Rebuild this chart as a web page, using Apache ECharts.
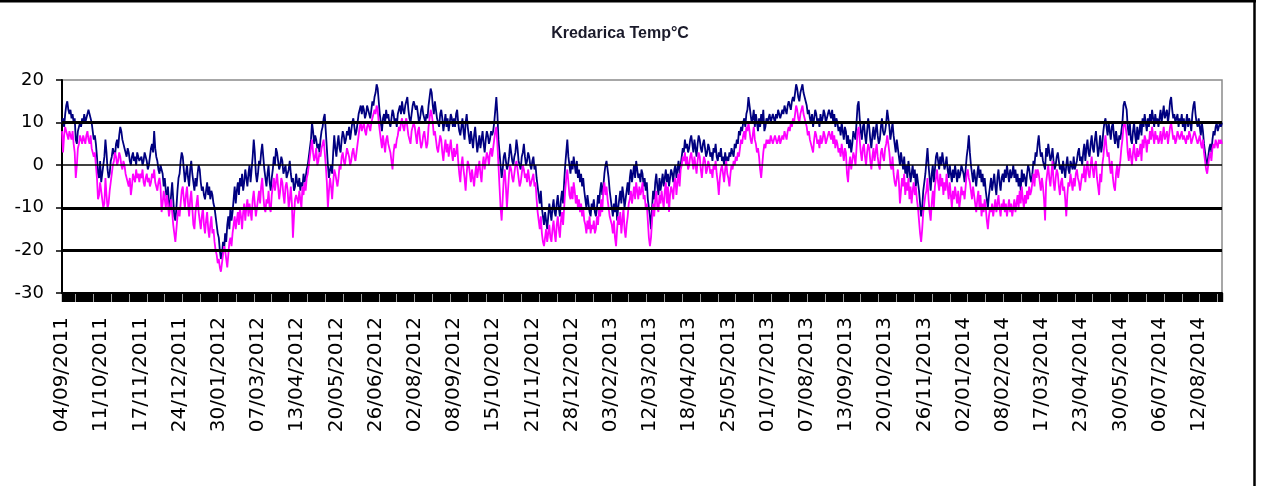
<!DOCTYPE html>
<html>
<head>
<meta charset="utf-8">
<script src="https://cdn.jsdelivr.net/npm/echarts@6/dist/echarts.min.js"></script>
<style>
html,body{margin:0;padding:0;background:#fff;}
#chart{width:1264px;height:486px;}
</style>
</head>
<body>
<div id="chart"></div>
<script>
// Title and axis settings
var chartTitle = 'Kredarica Temp°C';
var startDate = '2011-09-04';
var dayCount = 1096;
var yTicks = [-30, -20, -10, 0, 10, 20];
var labelEvery = 37;

// Daily maximum (navy), one line per 37-day label interval
var maxTemp = [].concat(
[10,11,9,12,14,15,13,12,13,11,12,10,11,6,5,8,9,10,9,11,10,12,10,11,12,13,12,11,10,8,6,7,5,2,-2,-3,1],
[-4,-2,0,2,6,3,-1,-3,-2,1,2,4,3,2,5,6,4,7,9,8,6,5,4,3,2,4,3,1,0,2,3,1,2,0,3,2,1],
[1,2,0,1,3,2,1,-1,0,2,4,5,3,8,4,2,1,-1,-2,0,-1,-2,-5,-3,-6,-8,-5,-9,-10,-7,-4,-8,-12,-13,-10,-6,-3],
[-2,1,3,2,-1,-4,-2,0,-3,-5,-1,1,-2,-4,-6,-3,-5,-2,0,-1,-4,-6,-5,-7,-8,-6,-4,-7,-5,-8,-6,-7,-9,-10,-12,-14,-16],
[-17,-20,-22,-21,-18,-20,-16,-18,-14,-12,-15,-10,-13,-11,-8,-5,-9,-6,-4,-7,-3,-5,-2,-6,-4,-1,-3,-5,-2,0,-4,-1,2,6,3,-2,-4],
[-2,1,0,3,5,2,-1,-3,-5,-2,0,-4,-6,-3,-1,2,0,4,3,1,-1,0,2,1,-2,-1,0,-3,-2,-1,1,-2,-4,-3,-6,-5,-2],
[-4,-5,-3,-6,-4,-5,-2,-4,-3,-1,0,2,4,6,10,8,5,7,6,4,5,3,6,8,9,11,12,8,4,0,-3,-1,0,-2,3,7,4],
[2,5,7,4,3,6,8,7,5,6,8,7,9,6,8,10,11,9,7,8,10,12,13,14,12,14,13,11,12,14,13,12,11,13,15,14,16],
[17,19,18,15,12,10,8,11,12,10,13,11,12,10,9,11,13,12,10,11,9,12,13,14,12,15,13,12,14,15,16,13,11,10,12,14,15],
[15,13,14,12,10,11,13,14,12,11,10,12,11,14,16,18,17,14,12,15,13,11,10,9,12,13,11,8,10,12,9,11,8,10,12,11,9],
[11,9,12,13,10,8,7,9,11,8,6,10,12,9,7,5,8,6,4,7,9,6,3,5,7,4,6,8,5,3,6,8,7,5,6,8,7],
[8,10,13,16,12,6,3,0,-3,-1,2,3,1,-1,0,2,5,3,1,0,2,3,6,4,1,0,-1,2,3,5,2,0,1,3,2,0,-1],
[1,2,-1,0,-3,-5,-7,-9,-6,-10,-12,-14,-11,-13,-15,-12,-9,-11,-13,-10,-8,-11,-12,-9,-7,-10,-12,-8,-6,-9,-4,0,3,6,2,0,-2],
[1,-1,2,0,-2,1,-3,-1,-4,-2,-5,-3,-6,-8,-10,-7,-9,-11,-12,-9,-10,-8,-11,-12,-10,-7,-9,-6,-4,-7,-5,-2,0,1,-1,-3,-6],
[-8,-10,-12,-9,-11,-7,-13,-10,-8,-6,-9,-5,-7,-10,-8,-6,-4,-7,-3,-1,-4,-2,0,-3,1,-1,-3,-2,-4,-1,-2,-5,-3,-6,-4,-8,-10],
[-12,-15,-10,-6,-8,-4,-2,-5,-7,-3,-6,-4,-2,-5,-3,-1,-4,-2,-5,-3,-1,-2,-4,-1,0,-3,-1,1,-2,0,2,4,3,6,4,5,3],
[4,6,7,5,3,6,4,2,5,7,6,4,3,5,6,4,2,3,5,4,2,3,1,4,3,5,2,1,3,2,4,1,2,0,3,1,2],
[1,3,2,4,3,2,5,4,6,5,8,7,9,8,10,11,9,12,13,16,14,12,10,11,13,9,12,10,8,11,9,12,10,13,8,9,11],
[10,11,12,10,11,12,11,10,12,11,13,12,11,12,13,12,14,13,12,14,15,14,13,15,16,15,17,19,18,16,15,17,18,19,17,16,15],
[14,12,13,11,10,12,9,11,13,12,10,11,9,12,10,11,13,12,10,11,12,13,12,11,13,10,12,9,11,10,8,9,7,10,8,6,9],
[8,5,7,4,6,3,5,8,7,6,10,14,15,11,8,6,9,10,7,5,8,11,9,6,4,7,9,6,8,10,7,5,6,9,11,8,7],
[8,10,13,11,9,6,8,10,7,5,3,6,4,2,0,3,1,-1,2,-2,0,-3,1,-1,-4,-2,0,-3,-1,-5,-2,-4,-6,-9,-12,-10,-6],
[-4,-2,1,4,0,-3,-6,-2,0,-4,-1,2,3,1,-1,2,0,3,1,-1,0,2,-1,-3,0,-2,-4,-1,-3,0,-2,-4,-1,-3,-2,0,-1],
[-2,-4,-1,2,4,7,3,0,-2,-4,-1,-3,-5,-2,0,-3,-1,-4,-2,-5,-3,-6,-8,-10,-7,-5,-3,-6,-4,-2,-5,-7,-3,-1,-4,-6,-3],
[-2,-4,-1,-3,0,-2,-4,-1,-3,-2,0,-3,-1,-4,-2,-5,-3,-6,-1,-4,-2,-3,-5,-2,0,-1,-3,-4,-2,1,0,3,2,5,7,4,2],
[3,1,0,-1,4,2,5,3,1,2,4,1,-1,0,2,3,1,-1,0,-2,1,-1,-3,0,2,-1,-2,1,0,-1,2,-1,0,1,3,4,1],
[2,0,3,5,1,4,6,3,2,5,7,4,3,6,8,5,2,4,7,3,5,8,10,11,9,7,10,8,6,9,10,7,5,8,6,4,7],
[6,8,10,14,15,15,13,9,7,10,6,5,8,10,7,5,9,6,8,10,7,11,9,12,10,8,11,9,12,10,13,11,9,12,10,11,9],
[11,13,10,12,14,11,12,13,10,12,15,16,13,11,12,10,11,12,9,11,10,12,9,11,8,10,12,9,11,10,8,12,14,15,12,10,9],
[11,9,7,10,8,5,3,1,0,2,4,5,3,6,8,7,9,10,8,9,10,9,10]
);

// Daily minimum (magenta)
var minTemp = [].concat(
[8,3,7,9,8,7,6,8,7,6,8,5,3,-3,0,4,5,7,6,5,7,6,5,7,8,6,5,7,4,3,2,3,0,-3,-8,-7,-4],
[-6,-8,-10,-9,-3,-7,-10,-9,-6,-4,-2,0,1,3,2,0,1,3,2,0,-1,1,0,-2,-3,-4,-5,-3,-7,-5,-2,-3,-4,-1,-3,-2,-4],
[-2,-3,-1,-4,-5,-3,-2,-4,-3,-5,-4,-2,-3,-1,-4,-5,-6,-4,-3,-5,-11,-9,-6,-8,-10,-7,-9,-12,-10,-8,-11,-14,-16,-18,-15,-12,-10],
[-12,-9,-6,-5,-8,-10,-7,-5,-9,-12,-8,-6,-10,-14,-15,-11,-9,-7,-11,-13,-15,-12,-10,-14,-16,-13,-11,-15,-17,-14,-12,-16,-15,-18,-20,-21,-23],
[-22,-24,-25,-23,-21,-19,-20,-22,-24,-21,-18,-17,-19,-16,-14,-12,-15,-13,-11,-14,-10,-12,-15,-11,-9,-13,-10,-8,-12,-9,-11,-13,-8,-6,-9,-12,-10],
[-8,-6,-9,-5,-3,-7,-10,-11,-8,-9,-6,-10,-11,-7,-5,-3,-6,-4,-2,-5,-8,-6,-3,-4,-7,-9,-5,-4,-6,-10,-8,-5,-9,-17,-12,-8,-7],
[-7,-9,-6,-8,-10,-5,-7,-4,-6,-3,-2,0,2,4,6,3,1,2,4,0,1,3,2,4,5,6,3,0,-4,-10,-6,-3,-5,-8,-4,-1,-2],
[-2,-5,-3,0,-1,2,3,1,0,2,4,3,2,0,1,3,4,2,1,3,5,7,9,10,8,9,10,8,7,9,10,9,8,10,11,12,13],
[12,14,13,10,8,6,4,7,5,3,6,7,5,4,3,1,-1,3,5,4,6,7,9,8,10,11,9,8,10,11,9,7,6,5,8,9,10],
[9,7,5,8,9,6,4,5,7,8,6,4,5,9,11,13,12,10,7,8,6,4,3,5,7,6,3,1,4,6,3,5,2,4,6,3,1],
[4,2,3,5,1,-2,-4,0,2,-1,-3,-6,-2,1,0,-2,-4,-1,-3,-5,-2,0,-3,-1,1,-2,-4,0,2,-1,1,3,2,0,3,4,2],
[4,6,8,9,5,0,-5,-10,-13,-8,-3,-1,-5,-10,-6,-2,0,-1,-3,-4,-2,0,1,-1,-3,-5,-4,-2,0,-1,-3,-2,-4,-1,-3,-5,-4],
[-3,-2,-5,-4,-8,-11,-13,-15,-12,-16,-18,-19,-17,-15,-18,-16,-14,-17,-18,-15,-13,-16,-18,-14,-12,-15,-17,-13,-11,-14,-10,-6,-3,-1,-4,-7,-8],
[-5,-8,-4,-6,-9,-7,-10,-8,-11,-9,-12,-10,-13,-14,-16,-13,-15,-12,-16,-14,-15,-13,-16,-15,-12,-14,-10,-12,-8,-11,-6,-4,-7,-5,-8,-10,-12],
[-12,-14,-16,-13,-17,-19,-15,-12,-14,-11,-16,-13,-10,-15,-17,-14,-12,-9,-8,-6,-9,-7,-5,-8,-4,-6,-8,-5,-7,-6,-4,-8,-7,-10,-9,-13,-17],
[-19,-17,-13,-9,-12,-8,-6,-10,-11,-7,-9,-6,-8,-10,-6,-4,-9,-5,-11,-7,-5,-6,-8,-4,-3,-7,-4,-2,-5,-1,0,2,1,3,0,2,-1],
[0,2,3,1,-1,2,0,-2,1,3,2,-1,-3,0,2,1,-2,-1,1,0,-2,-1,-3,0,-1,1,-2,-4,-7,-3,-1,0,-2,-4,-1,1,-2],
[-3,-5,-2,0,-1,1,0,2,1,3,2,4,6,5,7,8,6,9,8,10,8,6,5,7,9,6,5,3,4,2,-1,-3,0,3,5,4,6],
[5,6,5,7,6,5,6,7,6,5,6,7,5,6,7,6,8,7,6,8,9,8,10,9,11,10,12,14,13,11,10,12,13,14,12,11,10],
[9,7,8,6,5,4,3,6,8,7,5,6,4,7,5,6,8,7,5,6,7,8,7,6,8,5,7,4,6,5,3,4,2,5,3,1,4],
[3,-2,-4,0,2,-1,1,3,2,0,4,8,9,6,3,1,4,5,2,0,3,5,4,1,-1,2,4,1,3,5,2,0,-1,3,4,2,1],
[4,5,7,5,3,0,-1,2,-2,-4,-5,-3,-1,-4,-9,-6,-3,-5,-2,-7,-4,-6,-3,-8,-5,-9,-6,-4,-7,-5,-8,-10,-13,-16,-18,-15,-11],
[-9,-7,-6,-3,-8,-11,-13,-9,-6,-10,-5,-3,-1,-4,-6,-2,-5,-3,-7,-4,-6,-2,-5,-8,-4,-7,-10,-6,-8,-5,-7,-9,-6,-10,-8,-5,-7],
[-6,-8,-5,-2,-1,-3,-4,-6,-8,-5,-7,-9,-11,-8,-6,-10,-7,-12,-9,-11,-8,-10,-13,-15,-12,-10,-11,-9,-12,-10,-8,-11,-9,-7,-10,-12,-9],
[-10,-8,-11,-9,-12,-10,-8,-11,-9,-12,-10,-8,-11,-9,-7,-10,-6,-9,-5,-8,-10,-7,-9,-6,-8,-5,-7,-6,-4,-2,-5,-1,-3,-1,-2,-4,-6],
[-3,-5,-8,-13,-4,-2,0,-3,-5,-2,1,-4,-6,-3,-1,-2,-5,-7,-4,-3,-6,-5,-8,-12,-7,-4,-5,-2,-4,-6,-3,-5,-2,-1,-3,-4,-6],
[-4,-2,-3,0,-4,-1,1,-2,-3,0,2,-1,-3,0,1,-3,-5,-7,-2,-4,0,2,5,7,4,2,3,0,-2,1,-3,-5,-6,-2,0,-3,-1],
[1,4,6,9,10,9,7,3,1,4,2,0,3,5,2,1,4,2,3,5,1,6,4,7,6,3,6,5,8,6,9,7,5,8,6,7,5],
[6,8,5,7,9,6,7,8,5,7,9,10,8,6,7,5,6,8,7,6,7,8,6,7,6,5,7,6,8,7,5,6,7,8,7,6,5],
[6,7,5,4,6,3,1,-1,-2,0,2,3,1,4,5,4,6,5,4,6,5,6,5]
);

// Daily category labels dd/mm/yyyy
var categories = [];
(function(){
  var d = new Date(startDate + 'T00:00:00Z');
  for (var i = 0; i < dayCount; i++) {
    var dd = ('0' + d.getUTCDate()).slice(-2);
    var mm = ('0' + (d.getUTCMonth() + 1)).slice(-2);
    categories.push(dd + '/' + mm + '/' + d.getUTCFullYear());
    d.setUTCDate(d.getUTCDate() + 1);
  }
})();

var chart = echarts.init(document.getElementById('chart'), null, {renderer: 'canvas'});
chart.setOption({
  animation: false,
  backgroundColor: '#fff',
  title: {
    text: chartTitle, left: 615, top: 21, textAlign: 'center',
    textStyle: {fontFamily: 'Liberation Sans, Arial, sans-serif', fontSize: 16, fontWeight: 'bold', color: '#1a1a2a'}
  },
  graphic: [
    {type: 'line', shape: {x1: 0, y1: 1, x2: 1256, y2: 1}, style: {stroke: '#000', lineWidth: 3}},
    {type: 'line', shape: {x1: 1254.5, y1: 0, x2: 1254.5, y2: 486}, style: {stroke: '#000', lineWidth: 2.5}}
  ],
  grid: {left: 62, right: 42, top: 80, bottom: 193, show: true, borderColor: '#8a8a8a', borderWidth: 1.5},
  xAxis: {
    type: 'category', data: categories, boundaryGap: false,
    axisLine: {show: true, onZero: false, lineStyle: {color: '#000', width: 2}},
    axisTick: {show: true, interval: 0, length: 9, lineStyle: {color: '#000', width: 1.4}},
    axisLabel: {interval: labelEvery - 1, rotate: 90, margin: 24, color: '#000',
      fontFamily: 'DejaVu Sans', fontSize: 20},
    splitLine: {show: false}
  },
  yAxis: {
    type: 'value', min: yTicks[0], max: yTicks[yTicks.length - 1], interval: 10,
    axisLine: {show: true, lineStyle: {color: '#000', width: 2}},
    axisTick: {show: true, length: 6, lineStyle: {color: '#000', width: 1.5}},
    axisLabel: {margin: 18, color: '#000', fontFamily: 'DejaVu Sans', fontSize: 18},
    splitLine: {show: false}
  },
  series: [
    {
      type: 'line', data: [], silent: true, z: 1,
      markLine: {symbol: 'none', silent: true, label: {show: false}, animation: false,
        lineStyle: {color: '#000', width: 3, type: 'solid'},
        data: [{yAxis: yTicks[4]}, {yAxis: yTicks[2]}, {yAxis: yTicks[1]}]}
    },
    {
      type: 'line', data: [], silent: true, z: 1,
      markLine: {symbol: 'none', silent: true, label: {show: false}, animation: false,
        lineStyle: {color: '#000', width: 1.5, type: 'solid'},
        data: [{yAxis: yTicks[3]}]}
    },
    {
      name: 'Max', type: 'line', data: maxTemp, showSymbol: false, z: 3,
      lineStyle: {color: '#000080', width: 1.8}, itemStyle: {color: '#000080'}
    },
    {
      name: 'Min', type: 'line', data: minTemp, showSymbol: false, z: 4,
      lineStyle: {color: '#ff00ff', width: 1.8}, itemStyle: {color: '#ff00ff'}
    }
  ]
});
</script>
</body>
</html>
